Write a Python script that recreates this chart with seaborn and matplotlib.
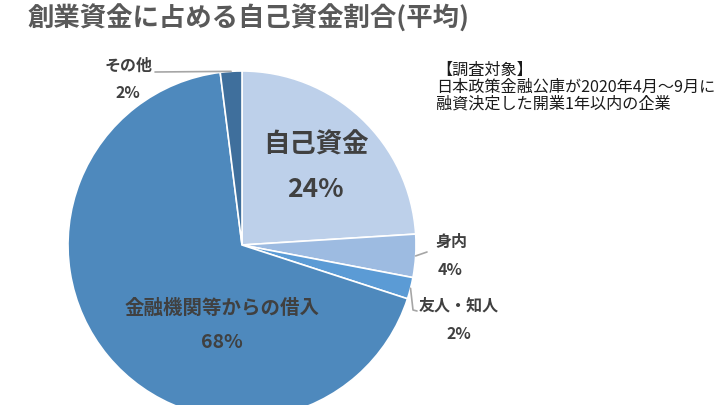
import numpy as np
import matplotlib
matplotlib.use("Agg")
import matplotlib.pyplot as plt
import seaborn as sns

# data
categories = ['自己資金', '身内', '友人・知人', '金融機関等からの借入', 'その他']
shares = [24, 4, 2, 68, 2]
colors = ['#bdd0ea', '#9dbbe1', '#5b9bd5', '#4e89bd', '#3f6f9c']
title = '創業資金に占める自己資金割合(平均)'
note_lines = ['【調査対象】', '日本政策金融公庫が2020年4月～9月に', '融資決定した開業1年以内の企業']

sns.set_style('white')
plt.rcParams['font.family'] = ['Noto Sans CJK JP', 'DejaVu Sans']

W, H = 720, 405
fig = plt.figure(figsize=(W / 100, H / 100), dpi=100)

# pie centre / radius in pixels
cx, cy, r = 242, 245, 174
ax = fig.add_axes([(cx - r) / W, (H - cy - r) / H, 2 * r / W, 2 * r / H])
wedges, _ = ax.pie(shares, colors=colors, startangle=90, counterclock=False,
                   wedgeprops=dict(edgecolor='white', linewidth=1.2))
ax.set_xlim(-1, 1)
ax.set_ylim(-1, 1)


def to_data(x, y):
    return ((x - cx) / r, (cy - y) / r)


# label layout: (name position px, percent position px, fontsize)
label_pos = {
    '自己資金': ((316, 145), (315, 190), 19),
    '身内': ((451, 242), (450, 270), 11.5),
    '友人・知人': ((459, 306), (459, 334), 11.5),
    '金融機関等からの借入': ((222, 308), (222, 342), 14),
    'その他': ((129, 66), (128, 93), 11.5),
}
leaders = {
    '身内': [(427, 252)],
    '友人・知人': [(413, 310), (417, 311)],
    'その他': [(155, 72)],
}

for w, cat, share in zip(wedges, categories, shares):
    name_xy, pct_xy, fs = label_pos[cat]
    ax.text(*to_data(*name_xy), cat, ha='center', va='center', fontsize=fs,
            fontweight='bold', color='#404040')
    ax.text(*to_data(*pct_xy), f'{share}%', ha='center', va='center', fontsize=fs,
            fontweight='bold', color='#404040')
    if cat in leaders:
        theta = np.deg2rad((w.theta1 + w.theta2) / 2)
        xs = [np.cos(theta)]
        ys = [np.sin(theta)]
        for p in leaders[cat]:
            dx, dy = to_data(*p)
            xs.append(dx)
            ys.append(dy)
        ax.plot(xs, ys, color='#a6a6a6', lw=1.2, clip_on=False)

fig.text(27 / W, 1 - 19 / H, title, ha='left', va='center', fontsize=19,
         fontweight='bold', color='#595959')

for i, line in enumerate(note_lines):
    fig.text(436 / W, 1 - (70 + 17 * i) / H, line, ha='left', va='center',
             fontsize=11.6, color='#1a1a1a')

fig.savefig('out.png', dpi=100)
